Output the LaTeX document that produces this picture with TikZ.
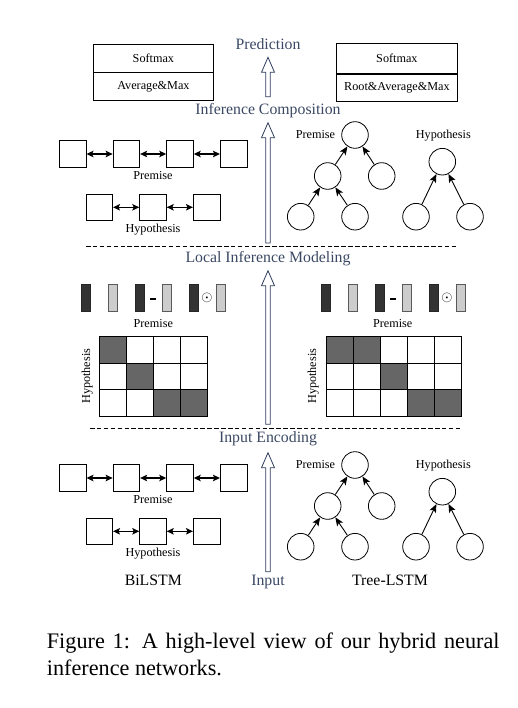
\documentclass[tikz,border=0pt]{standalone}
\usepackage{fontspec}
\setmainfont{Liberation Serif}
\usetikzlibrary{arrows.meta, positioning, calc}
\definecolor{stagecol}{RGB}{58,72,99}
\definecolor{arrowcol}{RGB}{48,62,92}
\definecolor{cellgray}{RGB}{102,102,102}
\begin{document}
\begin{tikzpicture}[
			x=1pt, y=-1pt,
			every node/.style={align=center},
			small/.style={font=\fontsize{12.2}{14}\selectfont, inner sep=0pt},
			stage/.style={font=\fontsize{15.8}{18}\selectfont, text=stagecol, inner sep=0pt, anchor=base},
			title/.style={font=\fontsize{15.8}{18}\selectfont, inner sep=0pt, anchor=base},
			sbox/.style={rectangle, draw, line width=0.8pt, minimum width=120pt, minimum height=27.3pt, inner sep=0pt, font=\fontsize{12.2}{14}\selectfont},
			cell/.style={rectangle, draw, line width=0.8pt, minimum size=26.7pt, inner sep=0pt},
			tnode/.style={circle, draw, line width=0.8pt, minimum size=26.6pt, inner sep=0pt},
			darkbar/.style={rectangle, draw=black!85, fill=black!80, line width=0.6pt, minimum width=9pt, minimum height=27.4pt, inner sep=0pt},
			lightbar/.style={rectangle, draw=black!65, fill=black!20, line width=0.6pt, minimum width=9pt, minimum height=27.4pt, inner sep=0pt},
			minusbar/.style={rectangle, fill=black, minimum width=5.8pt, minimum height=1.9pt, inner sep=0pt},
			biarrow/.style={{Stealth[length=7pt,width=6.5pt,inset=1.5pt]}-{Stealth[length=7pt,width=6.5pt,inset=1.5pt]}, line width=1.2pt},
			uparrow/.style={-{Stealth[length=8.5pt,width=7pt,inset=2pt]}, line width=0.9pt},
			hollow/.style={draw=arrowcol, fill=white, line width=0.8pt, line join=miter},
			sep/.style={dash pattern=on 4.5pt off 2.4pt, line width=0.7pt}
			]
			\useasboundingbox (0,0) rectangle (517,708);
			
			% Output layers
			\node[sbox, anchor=north west] (lsoft) at (93,44.3) {Softmax};
			\node[sbox, below=0pt of lsoft] (lpool) {Average\&Max};
			\node[sbox, minimum width=121pt, minimum height=30pt, anchor=north west] (rsoft) at (336,43.3) {Softmax};
			\node[sbox, minimum width=121pt, below=0pt of rsoft] (rpool) {Root\&Average\&Max};
			
			% Stages
			\node[stage] (pred) at (268,49.3) {Prediction};
			\node[stage] (compo) at (268,115) {Inference Composition};
			\node[stage] (local) at (268,262) {Local Inference Modeling};
			\node[stage] (enc) at (268,442.5) {Input Encoding};
			\node[stage] (input) at (268,585) {Input};
			\node[title] (bilstm) at (153.3,585) {BiLSTM};
			\node[title] (treelstm) at (390,585) {Tree-LSTM};
			
			% Stage arrows
			\coordinate (a1s) at (268,96.7);  \coordinate (a1e) at (268,57.3);
			\coordinate (a2s) at (268,243);   \coordinate (a2e) at (268,122.7);
			\coordinate (a3s) at (268,424.3); \coordinate (a3e) at (268,270.7);
			\coordinate (a4s) at (268,571.7); \coordinate (a4e) at (268,452.7);
			\foreach \ta/\tb in {a1s/a1e, a2s/a2e, a3s/a3e, a4s/a4e}
				\draw[hollow] let \p1=(\ta), \p2=(\tb) in
					(\x1-2.2pt,\y1) -- (\x1-2.2pt,\y2-15pt) -- (\x1-6.5pt,\y2-15pt) -- (\x2,\y2)
					-- (\x1+6.5pt,\y2-15pt) -- (\x1+2.2pt,\y2-15pt) -- (\x1+2.2pt,\y1) -- cycle;
			
			% Separators
			\coordinate (d1l) at (86,246);  \coordinate (d1r) at (456.7,246);
			\coordinate (d2l) at (90,428.3); \coordinate (d2r) at (460,428.3);
			\draw[sep] (d1l) -- (d1r);
			\draw[sep] (d2l) -- (d2r);
			
			% BiLSTM chains
			\foreach \s/\o in {t/0, b/324} {
				\foreach \i/\x in {1/72.7, 2/126.4, 3/180, 4/233.7}
					\node[cell] (\s p\i) at (\x,154+\o) {};
				\foreach \i/\x in {1/99.3, 2/153, 3/206.7}
					\node[cell] (\s h\i) at (\x,207.3+\o) {};
				\foreach \i/\j in {1/2, 2/3, 3/4}
					\draw[biarrow] (\s p\i) -- (\s p\j);
				\foreach \i/\j in {1/2, 2/3}
					\draw[biarrow] (\s h\i) -- (\s h\j);
				\node[small, anchor=base] (\s plab) at (153,179.3+\o) {Premise};
				\node[small, anchor=base] (\s hlab) at (153,232.7+\o) {Hypothesis};
			}
			
			% Trees
			\foreach \s/\o in {t/0, b/330} {
				\node[tnode] (\s root) at (355,135+\o) {};
				\node[tnode] (\s kl) at (327.7,176+\o) {};
				\node[tnode] (\s kr) at (381.7,176+\o) {};
				\node[tnode] (\s ll) at (300.7,216.7+\o) {};
				\node[tnode] (\s lr) at (355,216.7+\o) {};
				\node[tnode] (\s hroot) at (442.3,161.7+\o) {};
				\node[tnode] (\s hl) at (416,216.7+\o) {};
				\node[tnode] (\s hr) at (470,216.7+\o) {};
				\foreach \ch/\pa in {kl/root, kr/root, ll/kl, lr/kl, hl/hroot, hr/hroot}
					\draw[uparrow] (\s\ch) -- (\s\pa);
				\node[small, left=6pt of \s root] (\s tplab) {Premise};
				\node[small, anchor=base] (\s thlab) at (443.3,138.3+\o) {Hypothesis};
			}
			
			% Local inference vectors
			\foreach \s/\o in {l/0, r/240} {
				\foreach \i/\x/\kind in {1/86.2/darkbar, 2/112.8/lightbar, 3/139.5/darkbar, 4/166.8/lightbar, 5/193.5/darkbar, 6/220.5/lightbar}
					\node[\kind] (\s bar\i) at (\x+\o,298) {};
				\node[minusbar] (\s minus) at (153.3+\o,299) {};
				\node[font=\fontsize{15}{15}\selectfont, inner sep=0pt] (\s odot) at (207+\o,298.3) {$\odot$};
			}
			\node[small, anchor=base] (lmplab) at (153.3,327.3) {Premise};
			\node[small, anchor=base] (rmplab) at (392.7,327.3) {Premise};
			
			% Attention grids
			\foreach \c/\r in {0/0, 1/1, 2/2, 3/2}
				\fill[cellgray] (99.3+27*\c,336+26.9*\r) rectangle ++(27,26.9);
			\foreach \c/\r in {0/0, 1/0, 2/1, 3/2, 4/2}
				\fill[cellgray] (326+27*\c,336+26.9*\r) rectangle ++(27,26.9);
			\foreach \c in {0,...,3}
				\foreach \r in {0,1,2}
					\draw[line width=0.8pt] (99.3+27*\c,336+26.9*\r) rectangle ++(27,26.9);
			\foreach \c in {0,...,4}
				\foreach \r in {0,1,2}
					\draw[line width=0.8pt] (326+27*\c,336+26.9*\r) rectangle ++(27,26.9);
			\node[small, rotate=90, anchor=base] (lhyp) at (90,376.2) {Hypothesis};
			\node[small, rotate=90, anchor=base] (rhyp) at (316,376.2) {Hypothesis};
			
			% Caption
			\node[font=\fontsize{22.2}{26.7}\selectfont, text width=452.6pt, align=justify, inner sep=0pt, anchor=north west] (caption) at (46.7,633)
				{\hyphenpenalty=10000 Figure 1: A high-level view of our hybrid neural inference networks.};
		\end{tikzpicture}
\end{document}
